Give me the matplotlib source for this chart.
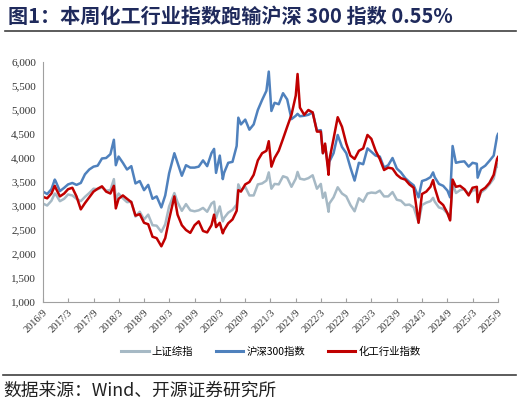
import matplotlib
matplotlib.use('Agg')
import matplotlib.pyplot as plt
from matplotlib.ticker import FuncFormatter
from matplotlib.lines import Line2D
import pandas as pd

plt.rcParams['font.family'] = ['Noto Sans CJK SC', 'DejaVu Sans']

# data (approximate)
dates = ['2016-09-01', '2016-10-01', '2016-11-01', '2016-11-25', '2016-12-01',
         '2017-01-01', '2017-02-01', '2017-03-01', '2017-04-01', '2017-05-01',
         '2017-06-01', '2017-07-01', '2017-08-01', '2017-09-01', '2017-10-01',
         '2017-11-01', '2017-12-01', '2018-01-01', '2018-01-26', '2018-02-09',
         '2018-03-01', '2018-04-01', '2018-05-01', '2018-06-01', '2018-07-01',
         '2018-08-01', '2018-09-01', '2018-10-01', '2018-11-01', '2018-12-01',
         '2019-01-04', '2019-02-01', '2019-03-01', '2019-04-08', '2019-05-01',
         '2019-06-01', '2019-07-01', '2019-08-01', '2019-09-01', '2019-10-01',
         '2019-11-01', '2019-12-01', '2020-01-01', '2020-01-20', '2020-02-03',
         '2020-03-01', '2020-03-23', '2020-04-01', '2020-05-01', '2020-06-01',
         '2020-07-01', '2020-07-13', '2020-08-01', '2020-09-01', '2020-10-01',
         '2020-11-01', '2020-12-01', '2021-01-01', '2021-02-01', '2021-02-18',
         '2021-03-09', '2021-04-01', '2021-05-01', '2021-06-01', '2021-07-01',
         '2021-08-01', '2021-09-01', '2021-09-14', '2021-10-01', '2021-11-01',
         '2021-12-01', '2022-01-01', '2022-02-01', '2022-03-01', '2022-03-16',
         '2022-04-01', '2022-04-26', '2022-05-01', '2022-06-01', '2022-07-01',
         '2022-08-01', '2022-09-01', '2022-10-01', '2022-10-31', '2022-12-01',
         '2023-01-01', '2023-02-01', '2023-03-01', '2023-04-01', '2023-05-01',
         '2023-06-01', '2023-07-01', '2023-08-01', '2023-09-01', '2023-10-01',
         '2023-11-01', '2023-12-01', '2024-01-01', '2024-02-05', '2024-03-01',
         '2024-04-01', '2024-05-01', '2024-05-20', '2024-06-01', '2024-07-01',
         '2024-08-01', '2024-09-01', '2024-09-20', '2024-10-08', '2024-11-01',
         '2024-12-01', '2025-01-01', '2025-02-01', '2025-03-01', '2025-04-01',
         '2025-04-07', '2025-05-01', '2025-06-01', '2025-07-01', '2025-08-01',
         '2025-08-25', '2025-09-01']

sse = [3050, 3010, 3110, 3260, 3250,
       3100, 3150, 3240, 3220, 3150,
       3100, 3190, 3270, 3360, 3350,
       3390, 3320, 3330, 3560, 3130,
       3260, 3160, 3080, 3090, 2780,
       2880, 2720, 2820, 2600, 2590,
       2460, 2620, 2990, 3270, 3080,
       2900, 3040, 2910, 2890, 2910,
       2960, 2880, 3050, 3090, 2750,
       2990, 2680, 2750, 2860, 2920,
       3030, 3450, 3320, 3400, 3220,
       3220, 3450, 3470, 3530, 3700,
       3360, 3460, 3450, 3620, 3590,
       3400, 3570, 3710, 3570, 3550,
       3580, 3640, 3360, 3460, 3170,
       3280, 2880, 3050, 3180, 3390,
       3260, 3200, 3020, 2890, 3160,
       3090, 3260, 3280, 3270, 3320,
       3200, 3200, 3290, 3130, 3110,
       3020, 3030, 2970, 2660, 3020,
       3070, 3100, 3170, 3090, 2970,
       2940, 2840, 2720, 3480, 3270,
       3330, 3350, 3250, 3320, 3340,
       3100, 3280, 3350, 3450, 3570,
       3880, 3830]

hs300 = [3300, 3250, 3350, 3550, 3520,
         3310, 3380, 3450, 3480, 3440,
         3480, 3660, 3760, 3820, 3840,
         3990, 4000, 4080, 4380, 3850,
         4030, 3900, 3760, 3830, 3470,
         3520, 3330, 3440, 3150, 3200,
         2970, 3220, 3680, 4100, 3900,
         3630, 3850, 3800, 3800, 3820,
         3950, 3830, 4100, 4190, 3690,
         4050, 3560, 3690, 3900, 3920,
         4250, 4840, 4700, 4800, 4590,
         4700, 5000, 5210, 5400, 5800,
         4980, 5150, 5120, 5350, 5220,
         4810, 4880, 4920, 4870, 4880,
         4900, 4950, 4570, 4580, 4100,
         4250, 3760, 3920, 4100, 4480,
         4230, 4100, 3800, 3530, 3900,
         3870, 4200, 4130, 4050, 4030,
         3800, 3850, 4000, 3780, 3700,
         3580, 3500, 3430, 3180, 3520,
         3550, 3600, 3700, 3600, 3460,
         3420, 3320, 3180, 4250, 3900,
         3920, 3930, 3820, 3900, 3880,
         3590, 3780, 3840, 3940, 4050,
         4450, 4500]

chem = [3190, 3160, 3260, 3420, 3380,
        3200, 3260, 3350, 3380, 3200,
        2930, 3060, 3180, 3300, 3360,
        3410, 3300, 3260, 3420, 2950,
        3150, 3220, 3150, 3080, 2800,
        2830, 2650, 2620, 2360, 2330,
        2160, 2330, 2720, 3200, 2820,
        2600, 2500, 2440, 2600, 2680,
        2480, 2450, 2600, 2820, 2560,
        2650, 2430, 2500, 2640, 2720,
        2900, 3330, 3300, 3450, 3500,
        3650, 3950, 4100, 4150, 4350,
        3820, 4000, 4150, 4400, 4650,
        4900, 5300, 5750, 5050, 4900,
        5000, 4950, 4550, 4550, 4100,
        4300, 3650, 3950, 4400, 4850,
        4650, 4300, 4050, 3980, 4150,
        4200, 4480, 4400, 4150, 3980,
        3750, 3800, 3780, 3650, 3580,
        3550, 3450, 3380, 2650, 3250,
        3300, 3400, 3540, 3380, 3100,
        3020, 2850, 2700, 3550, 3400,
        3420, 3350, 3220, 3380, 3400,
        3080, 3320, 3380, 3480, 3650,
        3980, 4020]

series_names = ['上证综指', '沪深300指数', '化工行业指数']
series_colors = ['#A6B9C5', '#4F81BD', '#C00000']

x = pd.to_datetime(dates)

fig = plt.figure(figsize=(5.21, 4.04), dpi=100)
ax = fig.add_axes([43 / 521, 102 / 404, 455 / 521, 240 / 404])

for vals, name, col in zip([sse, hs300, chem], series_names, series_colors):
    ax.plot(x, vals, color=col, lw=1.8, label=name)

ax.set_ylim(1000, 6000)
ax.set_yticks(range(1000, 6001, 500))
ax.yaxis.set_major_formatter(FuncFormatter(lambda v, p: f'{int(v):,}'))
ax.set_xlim(pd.Timestamp('2016-09-01'), pd.Timestamp('2025-09-01'))
ticks = pd.date_range('2016-09-01', '2025-09-01', freq='6MS')
ax.set_xticks(ticks)
ax.set_xticklabels([f'{d.year}/{d.month}' for d in ticks], rotation=45,
                   ha='right', rotation_mode='anchor',
                   fontfamily='Liberation Serif', fontsize=7.5)
for lab in ax.get_yticklabels():
    lab.set_fontfamily('Liberation Serif')
    lab.set_fontsize(8)

for s in ['top', 'right']:
    ax.spines[s].set_visible(False)
for s in ['left', 'bottom']:
    ax.spines[s].set_color('#A0A0A0')
    ax.spines[s].set_linewidth(0.8)
ax.tick_params(axis='y', length=0, pad=5, colors='#333333')
ax.tick_params(axis='x', direction='in', length=3, color='#A0A0A0', pad=4,
               labelcolor='#333333')

handles = [Line2D([], [], color=c, lw=2.2) for c in series_colors]
fig.legend(handles, series_names, loc='center', bbox_to_anchor=(0.52, 1 - 352 / 404),
           ncol=3, frameon=False, fontsize=7.5, handlelength=2.6,
           handletextpad=0.3, columnspacing=2.2)

# title, rules and source
fig.text(8 / 521, 1 - 16 / 404, '图1：本周化工行业指数跑输沪深 300 指数 0.55%',
         fontsize=14.5, fontweight='bold', color='#1F2A5C', va='center', ha='left')
fig.add_artist(Line2D([5 / 521, 516 / 521], [1 - 31 / 404, 1 - 31 / 404],
                      color='#404040', lw=1.2))
fig.add_artist(Line2D([3 / 521, 516 / 521], [1 - 375 / 404, 1 - 375 / 404],
                      color='#404040', lw=1.2))
fig.text(3 / 521, 1 - 391 / 404, '数据来源：Wind、开源证券研究所',
         fontsize=12.8, color='#222222', va='center', ha='left')

fig.savefig('out.png', dpi=100)
